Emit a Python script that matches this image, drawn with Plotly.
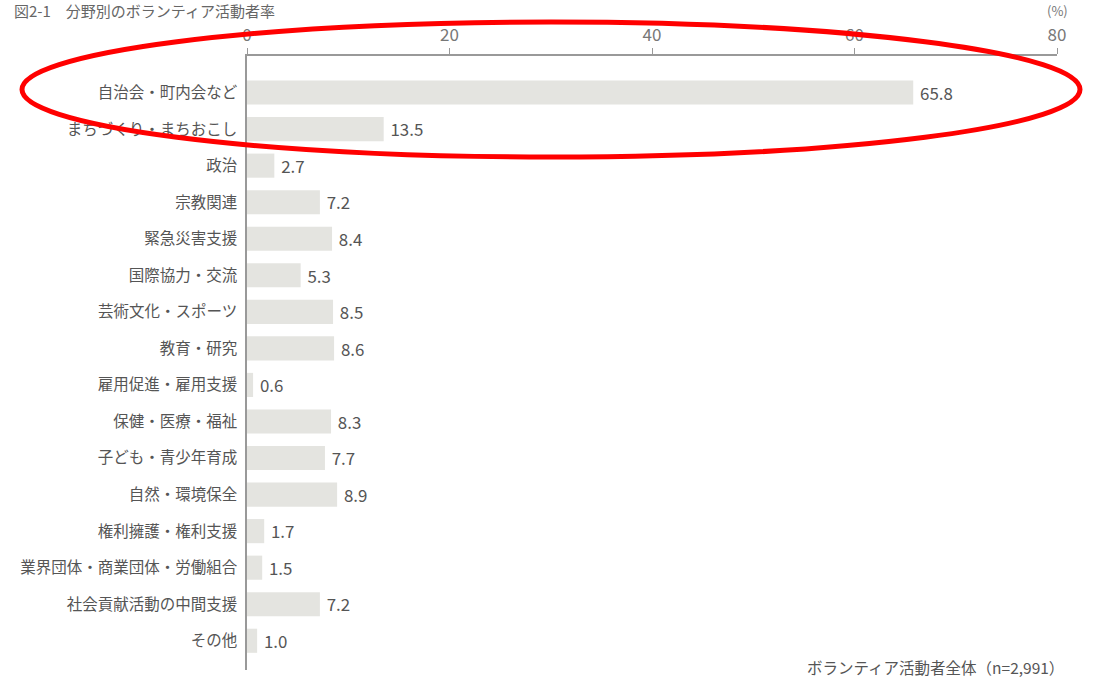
import plotly.graph_objects as go

categories = [
    "自治会・町内会など", "まちづくり・まちおこし", "政治", "宗教関連", "緊急災害支援",
    "国際協力・交流", "芸術文化・スポーツ", "教育・研究", "雇用促進・雇用支援",
    "保健・医療・福祉", "子ども・青少年育成", "自然・環境保全", "権利擁護・権利支援",
    "業界団体・商業団体・労働組合", "社会貢献活動の中間支援", "その他",
]
values = [65.8, 13.5, 2.7, 7.2, 8.4, 5.3, 8.5, 8.6, 0.6, 8.3, 7.7, 8.9, 1.7, 1.5, 7.2, 1.0]
x_ticks = [0, 20, 40, 60, 80]

FONT = "Noto Sans CJK JP, Noto Sans, sans-serif"

fig = go.Figure(go.Bar(
    x=values, y=categories, orientation="h",
    marker=dict(color="#e4e4e0", line=dict(width=0)),
    width=0.66,
    text=[f" {v:.1f}" for v in values], textposition="outside",
    textfont=dict(size=17.5, color="#555555", family=FONT),
    cliponaxis=False,
))

fig.update_layout(
    width=1106, height=682,
    margin=dict(l=247, r=49, t=56, b=12),
    paper_bgcolor="white", plot_bgcolor="white",
    showlegend=False,
    font=dict(family=FONT, color="#555555"),
    xaxis=dict(
        side="top", range=[0, 80], tickvals=x_ticks,
        showgrid=False, zeroline=False,
        showline=True, linecolor="#999999", linewidth=1.5,
        ticks="outside", ticklen=6, tickcolor="#999999",
        tickfont=dict(size=17, color="#777777"),
    ),
    yaxis=dict(
        categoryorder="array", categoryarray=categories,
        range=[15.8, -1.0],
        showgrid=False, zeroline=False,
        showline=True, linecolor="#999999", linewidth=1.5,
        ticks="", ticklabelstandoff=5,
        tickfont=dict(size=15.5, color="#555555"),
    ),
    annotations=[
        dict(text="(%)", xref="paper", yref="paper", x=(1057 - 247) / 810, y=(670 - 11) / 614,
             xanchor="center", yanchor="middle", showarrow=False,
             font=dict(size=13, color="#777777")),
        dict(text="ボランティア活動者全体（n=2,991）", xref="paper", yref="paper",
             x=(1066 - 247) / 810, y=(670 - 667) / 614,
             xanchor="right", yanchor="middle", showarrow=False,
             font=dict(size=15.5, color="#555555")),
        dict(text="図2-1　分野別のボランティア活動者率", xref="paper", yref="paper",
             x=(12 - 247) / 810, y=(670 - 11) / 614,
             xanchor="left", yanchor="middle", showarrow=False,
             font=dict(size=15, color="#666666")),
    ],
    shapes=[
        dict(type="circle", xref="paper", yref="paper",
             x0=(22 - 247) / 810, x1=(1080 - 247) / 810,
             y0=(670 - 157) / 614, y1=(670 - 22) / 614,
             line=dict(color="#ff0000", width=5), fillcolor="rgba(0,0,0,0)"),
    ],
)

fig.write_html("out.html")
